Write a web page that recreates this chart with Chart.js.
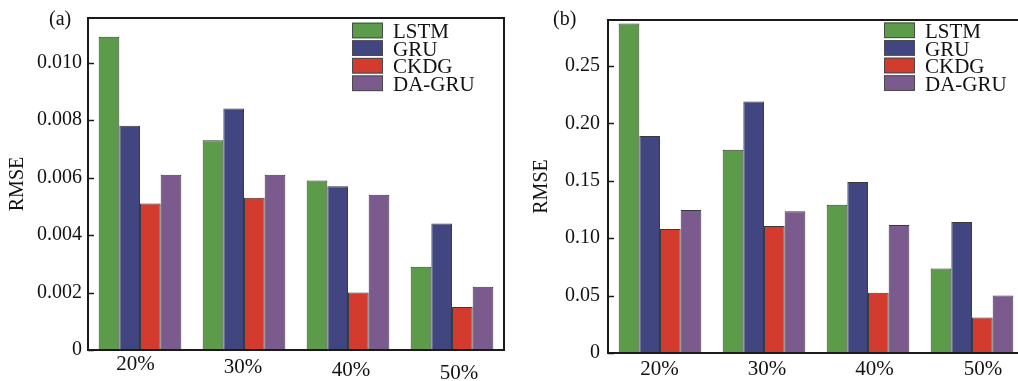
<!DOCTYPE html>
<html>
<head>
<meta charset="utf-8">
<script src="https://cdn.jsdelivr.net/npm/chart.js@4.4.0/dist/chart.umd.min.js"></script>
<style>
html,body{margin:0;padding:0;background:#fff;overflow:hidden;width:1018px;height:381px;}
canvas{position:absolute;top:0;}
#ca{left:0;}
#cb{left:512px;}
</style>
</head>
<body>
<canvas id="ca" width="512" height="381"></canvas>
<canvas id="cb" width="520" height="381"></canvas>
<script>
// ---- data ----
const categories = ['20%', '30%', '40%', '50%'];
const seriesNames = ['LSTM', 'GRU', 'CKDG', 'DA-GRU'];

const rmseA_LSTM  = [0.0109, 0.0073, 0.0059, 0.0029];
const rmseA_GRU   = [0.0078, 0.0084, 0.0057, 0.0044];
const rmseA_CKDG  = [0.0051, 0.0053, 0.0020, 0.0015];
const rmseA_DAGRU = [0.0061, 0.0061, 0.0054, 0.0022];

const rmseB_LSTM  = [0.287, 0.177, 0.129, 0.0735];
const rmseB_GRU   = [0.189, 0.219, 0.149, 0.114];
const rmseB_CKDG  = [0.108, 0.1105, 0.0525, 0.031];
const rmseB_DAGRU = [0.1245, 0.1235, 0.1115, 0.050];

const panelLabels = ['(a)', '(b)'];
const yAxisTitle = 'RMSE';

// ---- styles ----
const colors = ['#5b9b4a', '#414580', '#d33b2f', '#7b5b8d'];
const barBorder = '#3a3a3a';
const FONT = 'Liberation Serif';
Chart.defaults.font.family = FONT;
Chart.defaults.color = '#111';

const framePlugin = {
  id: 'frame',
  afterDraw(chart, args, o) {
    const ctx = chart.ctx, a = chart.chartArea;
    ctx.save();
    // frame
    ctx.strokeStyle = '#1a1a1a';
    ctx.lineWidth = 2;
    ctx.strokeRect(a.left, a.top, a.right - a.left, a.bottom - a.top);
    // inside y ticks
    const ys = chart.scales.y;
    ctx.lineWidth = 1.5;
    ys.ticks.forEach(t => {
      const y = Math.round(ys.getPixelForValue(t.value)) + 0.5;
      ctx.beginPath(); ctx.moveTo(a.left, y); ctx.lineTo(a.left + 6, y); ctx.stroke();
    });
    // x labels
    const xs = chart.scales.x;
    ctx.fillStyle = '#111';
    ctx.font = '21px ' + FONT;
    ctx.textAlign = 'center';
    ctx.textBaseline = 'middle';
    chart.data.labels.forEach((lab, i) => {
      ctx.fillText(lab, xs.getPixelForValue(i) + o.dx[i], a.bottom + o.dy[i]);
    });
    // panel label
    ctx.textAlign = 'left';
    ctx.textBaseline = 'alphabetic';
    ctx.font = '20px ' + FONT;
    ctx.fillText(o.panel, o.panelX, o.panelY);
    // legend
    ctx.font = '21px ' + FONT;
    chart.data.datasets.forEach((ds, i) => {
      const bx = a.left + o.legX, by = o.legY + i * 17.6;
      ctx.fillStyle = ds.backgroundColor;
      ctx.fillRect(bx, by, 31, 15.6);
      ctx.strokeStyle = '#4a4a4a';
      ctx.lineWidth = 1;
      ctx.strokeRect(bx + 0.5, by + 0.5, 30, 14.6);
      ctx.fillStyle = '#111';
      ctx.fillText(ds.label, bx + 41, by + 15.4);
    });
    ctx.restore();
  }
};

function makeChart(id, series, cfg) {
  return new Chart(document.getElementById(id), {
    type: 'bar',
    data: {
      labels: categories,
      datasets: series.map((vals, i) => ({
        label: seriesNames[i],
        data: vals,
        backgroundColor: colors[i],
        borderColor: barBorder,
        borderWidth: 1,
        categoryPercentage: 0.795,
        barPercentage: 1
      }))
    },
    options: {
      responsive: false,
      animation: false,
      devicePixelRatio: 1,
      layout: { padding: { left: 0, top: cfg.top, right: cfg.right, bottom: 0 } },
      plugins: {
        legend: { display: false },
        tooltip: { enabled: false },
        frame: cfg.frame
      },
      scales: {
        x: {
          type: 'category',
          grid: { display: false, drawTicks: false },
          border: { display: false },
          ticks: { display: false },
          afterFit(s) { s.height = cfg.xh; }
        },
        y: {
          min: 0,
          max: cfg.max,
          grid: { display: false, drawTicks: false },
          border: { display: false },
          ticks: {
            stepSize: cfg.step,
            includeBounds: false,
            padding: cfg.tickPad,
            font: { size: 20, family: FONT },
            color: '#111',
            callback: v => (Math.abs(v) < 1e-12 ? '0' : v.toFixed(cfg.dec))
          },
          title: {
            display: true,
            text: yAxisTitle,
            font: { size: 20, family: FONT },
            color: '#111',
            padding: { top: cfg.titlePad, bottom: 0 }
          },
          afterFit(s) { s.width = cfg.yw; }
        }
      }
    },
    plugins: [framePlugin]
  });
}

makeChart('ca', [rmseA_LSTM, rmseA_GRU, rmseA_CKDG, rmseA_DAGRU], {
  top: 15, right: 8, xh: 31, yw: 88, max: 0.01155, step: 0.002, dec: 3,
  tickPad: 6, titlePad: 6,
  frame: { dx: [-4.5, -1, 3, 7], dy: [14, 17, 20, 23.5],
           panel: panelLabels[0], panelX: 49, panelY: 25, legX: 264, legY: 22.7 }
});

makeChart('cb', [rmseB_LSTM, rmseB_GRU, rmseB_CKDG, rmseB_DAGRU], {
  top: 18, right: 8, xh: 28, yw: 96, max: 0.29, step: 0.05, dec: 2,
  tickPad: 8, titlePad: 17.5,
  frame: { dx: [-0.5, 3, 6.5, 11], dy: [16, 16, 16, 16],
           panel: panelLabels[1], panelX: 41, panelY: 25, legX: 276, legY: 22.5 }
});
</script>
</body>
</html>
